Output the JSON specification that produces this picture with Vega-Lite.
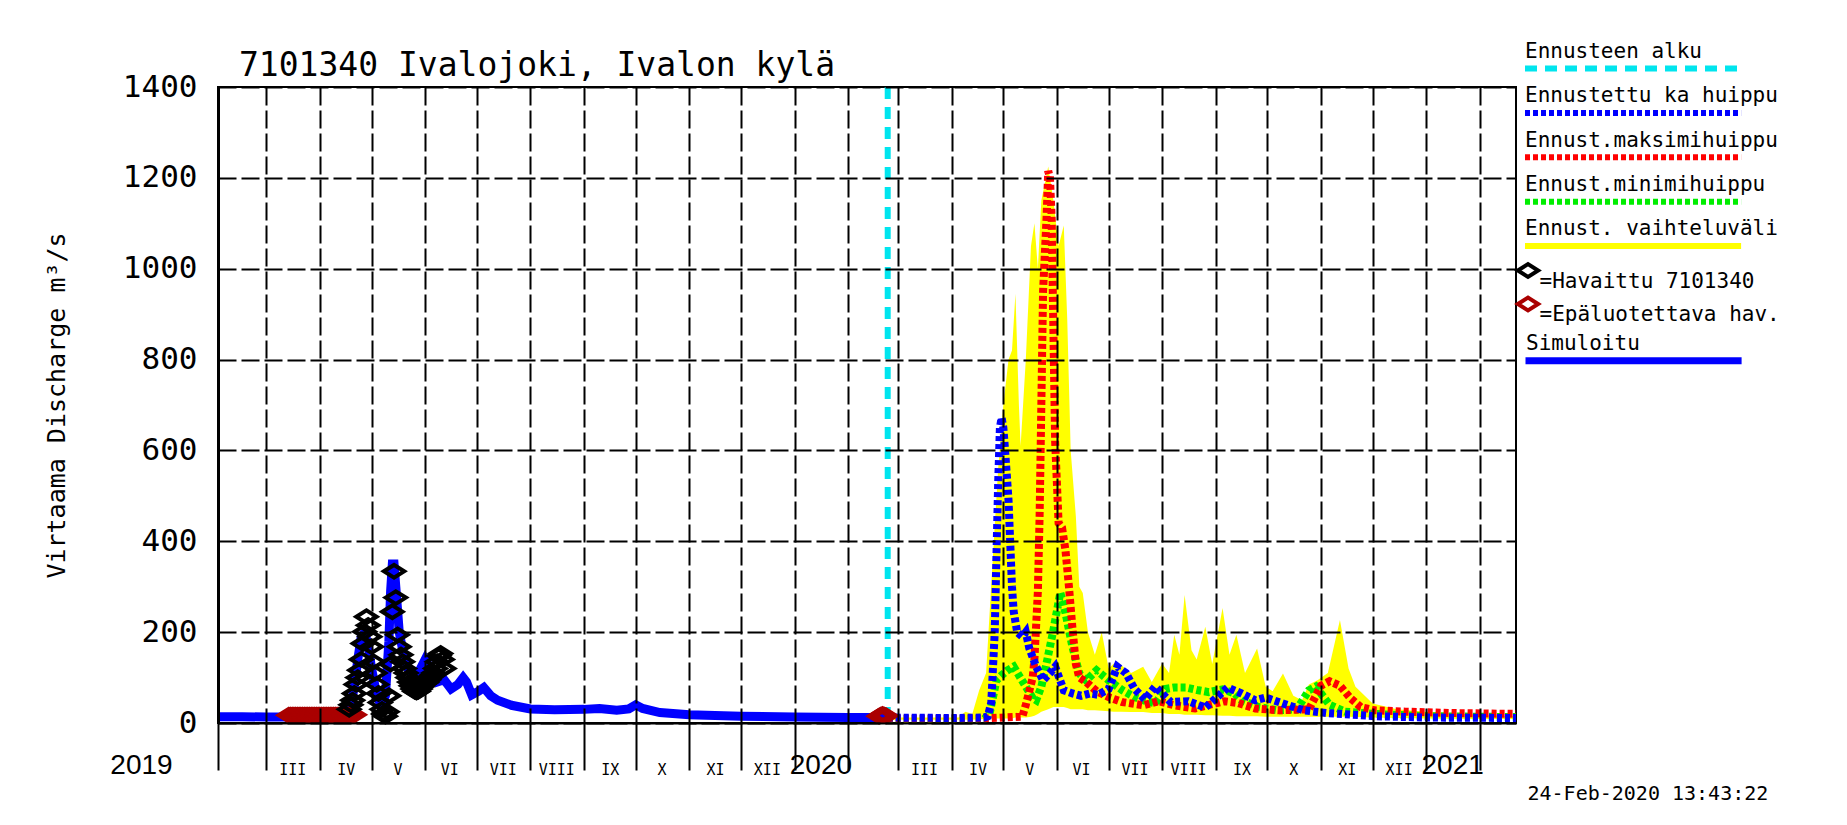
{
  "$schema": "https://vega.github.io/schema/vega-lite/v6.json",
  "autosize": {"type": "none"},
  "width": 1298,
  "height": 636,
  "padding": {"left": 218, "top": 87, "right": 331, "bottom": 102},
  "background": "#ffffff",
  "title": {"text": "7101340 Ivalojoki, Ivalon kylä", "anchor": "start", "frame": "group", "dx": 21, "dy": 77, "font": "DejaVu Sans Mono", "fontSize": 33, "fontWeight": "normal", "color": "#000000", "baseline": "alphabetic", "offset": 12},
  "datasets": {
    "sim": [
      {"date": "2019-02-01", "value": 14}, {"date": "2019-02-15", "value": 14}, {"date": "2019-03-01", "value": 13},
      {"date": "2019-03-15", "value": 13}, {"date": "2019-04-01", "value": 12}, {"date": "2019-04-14", "value": 13},
      {"date": "2019-04-17", "value": 20}, {"date": "2019-04-19", "value": 40}, {"date": "2019-04-21", "value": 80},
      {"date": "2019-04-23", "value": 140}, {"date": "2019-04-25", "value": 190}, {"date": "2019-04-27", "value": 200},
      {"date": "2019-04-29", "value": 170}, {"date": "2019-05-01", "value": 120}, {"date": "2019-05-03", "value": 80},
      {"date": "2019-05-05", "value": 50}, {"date": "2019-05-07", "value": 40}, {"date": "2019-05-09", "value": 60},
      {"date": "2019-05-11", "value": 180}, {"date": "2019-05-12", "value": 290}, {"date": "2019-05-13", "value": 350},
      {"date": "2019-05-14", "value": 350}, {"date": "2019-05-15", "value": 300}, {"date": "2019-05-17", "value": 200},
      {"date": "2019-05-19", "value": 160}, {"date": "2019-05-22", "value": 120}, {"date": "2019-05-25", "value": 100},
      {"date": "2019-05-28", "value": 110}, {"date": "2019-06-01", "value": 140}, {"date": "2019-06-04", "value": 120},
      {"date": "2019-06-08", "value": 90}, {"date": "2019-06-12", "value": 95}, {"date": "2019-06-16", "value": 75},
      {"date": "2019-06-20", "value": 85}, {"date": "2019-06-23", "value": 100}, {"date": "2019-06-25", "value": 90},
      {"date": "2019-06-28", "value": 62}, {"date": "2019-07-02", "value": 70}, {"date": "2019-07-05", "value": 78},
      {"date": "2019-07-09", "value": 60}, {"date": "2019-07-13", "value": 50}, {"date": "2019-07-21", "value": 39},
      {"date": "2019-08-01", "value": 31}, {"date": "2019-08-15", "value": 29}, {"date": "2019-09-01", "value": 30},
      {"date": "2019-09-10", "value": 32}, {"date": "2019-09-20", "value": 28}, {"date": "2019-09-27", "value": 31},
      {"date": "2019-10-01", "value": 40}, {"date": "2019-10-05", "value": 32}, {"date": "2019-10-15", "value": 23},
      {"date": "2019-11-01", "value": 18}, {"date": "2019-12-01", "value": 15}, {"date": "2020-01-01", "value": 13},
      {"date": "2020-02-01", "value": 12}, {"date": "2020-02-24", "value": 12}
    ],
    "obs": [
      {"date": "2019-03-14", "value": 17, "status": "=Epäluotettava hav."}, {"date": "2019-03-15", "value": 17, "status": "=Epäluotettava hav."},
      {"date": "2019-03-16", "value": 17, "status": "=Epäluotettava hav."}, {"date": "2019-03-17", "value": 17, "status": "=Epäluotettava hav."},
      {"date": "2019-03-18", "value": 17, "status": "=Epäluotettava hav."}, {"date": "2019-03-19", "value": 17, "status": "=Epäluotettava hav."},
      {"date": "2019-03-20", "value": 17, "status": "=Epäluotettava hav."}, {"date": "2019-03-21", "value": 17, "status": "=Epäluotettava hav."},
      {"date": "2019-03-22", "value": 17, "status": "=Epäluotettava hav."}, {"date": "2019-03-23", "value": 17, "status": "=Epäluotettava hav."},
      {"date": "2019-03-24", "value": 17, "status": "=Epäluotettava hav."}, {"date": "2019-03-25", "value": 17, "status": "=Epäluotettava hav."},
      {"date": "2019-03-26", "value": 17, "status": "=Epäluotettava hav."}, {"date": "2019-03-27", "value": 17, "status": "=Epäluotettava hav."},
      {"date": "2019-03-28", "value": 17, "status": "=Epäluotettava hav."}, {"date": "2019-03-29", "value": 17, "status": "=Epäluotettava hav."},
      {"date": "2019-03-30", "value": 17, "status": "=Epäluotettava hav."}, {"date": "2019-03-31", "value": 17, "status": "=Epäluotettava hav."},
      {"date": "2019-04-01", "value": 17, "status": "=Epäluotettava hav."}, {"date": "2019-04-02", "value": 17, "status": "=Epäluotettava hav."},
      {"date": "2019-04-03", "value": 17, "status": "=Epäluotettava hav."}, {"date": "2019-04-04", "value": 17, "status": "=Epäluotettava hav."},
      {"date": "2019-04-05", "value": 17, "status": "=Epäluotettava hav."}, {"date": "2019-04-06", "value": 17, "status": "=Epäluotettava hav."},
      {"date": "2019-04-07", "value": 17, "status": "=Epäluotettava hav."}, {"date": "2019-04-08", "value": 17, "status": "=Epäluotettava hav."},
      {"date": "2019-04-09", "value": 17, "status": "=Epäluotettava hav."}, {"date": "2019-04-10", "value": 17, "status": "=Epäluotettava hav."},
      {"date": "2019-04-11", "value": 17, "status": "=Epäluotettava hav."}, {"date": "2019-04-12", "value": 17, "status": "=Epäluotettava hav."},
      {"date": "2019-04-13", "value": 17, "status": "=Epäluotettava hav."}, {"date": "2019-04-14", "value": 17, "status": "=Epäluotettava hav."},
      {"date": "2019-04-15", "value": 17, "status": "=Epäluotettava hav."}, {"date": "2019-04-16", "value": 17, "status": "=Epäluotettava hav."},
      {"date": "2019-04-17", "value": 17, "status": "=Epäluotettava hav."}, {"date": "2019-04-18", "value": 18, "status": "=Epäluotettava hav."},
      {"date": "2019-04-19", "value": 18, "status": "=Epäluotettava hav."}, {"date": "2019-04-20", "value": 18, "status": "=Epäluotettava hav."},
      {"date": "2019-04-21", "value": 18, "status": "=Epäluotettava hav."},
      {"date": "2020-02-19", "value": 15, "status": "=Epäluotettava hav."}, {"date": "2020-02-20", "value": 17, "status": "=Epäluotettava hav."},
      {"date": "2020-02-21", "value": 19, "status": "=Epäluotettava hav."}, {"date": "2020-02-22", "value": 17, "status": "=Epäluotettava hav."},
      {"date": "2020-02-23", "value": 16, "status": "=Epäluotettava hav."},
      {"date": "2019-04-18", "value": 30, "status": "=Havaittu 7101340"}, {"date": "2019-04-19", "value": 40, "status": "=Havaittu 7101340"},
      {"date": "2019-04-20", "value": 50, "status": "=Havaittu 7101340"}, {"date": "2019-04-21", "value": 65, "status": "=Havaittu 7101340"},
      {"date": "2019-04-22", "value": 85, "status": "=Havaittu 7101340"}, {"date": "2019-04-23", "value": 100, "status": "=Havaittu 7101340"},
      {"date": "2019-04-24", "value": 116, "status": "=Havaittu 7101340"}, {"date": "2019-04-25", "value": 140, "status": "=Havaittu 7101340"},
      {"date": "2019-04-26", "value": 175, "status": "=Havaittu 7101340"}, {"date": "2019-04-27", "value": 201, "status": "=Havaittu 7101340"},
      {"date": "2019-04-28", "value": 234, "status": "=Havaittu 7101340"}, {"date": "2019-04-29", "value": 215, "status": "=Havaittu 7101340"},
      {"date": "2019-04-30", "value": 190, "status": "=Havaittu 7101340"}, {"date": "2019-05-01", "value": 168, "status": "=Havaittu 7101340"},
      {"date": "2019-05-02", "value": 135, "status": "=Havaittu 7101340"}, {"date": "2019-05-03", "value": 110, "status": "=Havaittu 7101340"},
      {"date": "2019-05-04", "value": 85, "status": "=Havaittu 7101340"}, {"date": "2019-05-05", "value": 65, "status": "=Havaittu 7101340"},
      {"date": "2019-05-06", "value": 45, "status": "=Havaittu 7101340"}, {"date": "2019-05-07", "value": 30, "status": "=Havaittu 7101340"},
      {"date": "2019-05-08", "value": 20, "status": "=Havaittu 7101340"}, {"date": "2019-05-09", "value": 15, "status": "=Havaittu 7101340"},
      {"date": "2019-05-10", "value": 25, "status": "=Havaittu 7101340"}, {"date": "2019-05-11", "value": 60, "status": "=Havaittu 7101340"},
      {"date": "2019-05-12", "value": 130, "status": "=Havaittu 7101340"}, {"date": "2019-05-13", "value": 245, "status": "=Havaittu 7101340"},
      {"date": "2019-05-14", "value": 334, "status": "=Havaittu 7101340"}, {"date": "2019-05-15", "value": 276, "status": "=Havaittu 7101340"},
      {"date": "2019-05-16", "value": 194, "status": "=Havaittu 7101340"}, {"date": "2019-05-17", "value": 168, "status": "=Havaittu 7101340"},
      {"date": "2019-05-18", "value": 150, "status": "=Havaittu 7101340"}, {"date": "2019-05-19", "value": 135, "status": "=Havaittu 7101340"},
      {"date": "2019-05-20", "value": 120, "status": "=Havaittu 7101340"}, {"date": "2019-05-21", "value": 110, "status": "=Havaittu 7101340"},
      {"date": "2019-05-22", "value": 100, "status": "=Havaittu 7101340"}, {"date": "2019-05-23", "value": 90, "status": "=Havaittu 7101340"},
      {"date": "2019-05-24", "value": 82, "status": "=Havaittu 7101340"}, {"date": "2019-05-25", "value": 75, "status": "=Havaittu 7101340"},
      {"date": "2019-05-26", "value": 70, "status": "=Havaittu 7101340"}, {"date": "2019-05-27", "value": 68, "status": "=Havaittu 7101340"},
      {"date": "2019-05-28", "value": 70, "status": "=Havaittu 7101340"}, {"date": "2019-05-29", "value": 75, "status": "=Havaittu 7101340"},
      {"date": "2019-05-30", "value": 80, "status": "=Havaittu 7101340"}, {"date": "2019-05-31", "value": 85, "status": "=Havaittu 7101340"},
      {"date": "2019-06-01", "value": 88, "status": "=Havaittu 7101340"}, {"date": "2019-06-02", "value": 90, "status": "=Havaittu 7101340"},
      {"date": "2019-06-03", "value": 95, "status": "=Havaittu 7101340"}, {"date": "2019-06-04", "value": 100, "status": "=Havaittu 7101340"},
      {"date": "2019-06-05", "value": 105, "status": "=Havaittu 7101340"}, {"date": "2019-06-06", "value": 110, "status": "=Havaittu 7101340"},
      {"date": "2019-06-07", "value": 120, "status": "=Havaittu 7101340"}, {"date": "2019-06-08", "value": 135, "status": "=Havaittu 7101340"},
      {"date": "2019-06-09", "value": 148, "status": "=Havaittu 7101340"}, {"date": "2019-06-10", "value": 153, "status": "=Havaittu 7101340"},
      {"date": "2019-06-11", "value": 140, "status": "=Havaittu 7101340"}, {"date": "2019-06-12", "value": 120, "status": "=Havaittu 7101340"}
    ],
    "fc": [
      {"date": "2020-02-24", "value": 9, "series": "Ennust.minimihuippu"}, {"date": "2020-04-20", "value": 9, "series": "Ennust.minimihuippu"},
      {"date": "2020-04-23", "value": 20, "series": "Ennust.minimihuippu"}, {"date": "2020-04-25", "value": 57, "series": "Ennust.minimihuippu"},
      {"date": "2020-04-27", "value": 94, "series": "Ennust.minimihuippu"}, {"date": "2020-04-30", "value": 105, "series": "Ennust.minimihuippu"},
      {"date": "2020-05-03", "value": 115, "series": "Ennust.minimihuippu"}, {"date": "2020-05-07", "value": 124, "series": "Ennust.minimihuippu"},
      {"date": "2020-05-10", "value": 105, "series": "Ennust.minimihuippu"}, {"date": "2020-05-14", "value": 80, "series": "Ennust.minimihuippu"},
      {"date": "2020-05-18", "value": 55, "series": "Ennust.minimihuippu"}, {"date": "2020-05-20", "value": 50, "series": "Ennust.minimihuippu"},
      {"date": "2020-05-23", "value": 80, "series": "Ennust.minimihuippu"}, {"date": "2020-05-26", "value": 131, "series": "Ennust.minimihuippu"},
      {"date": "2020-05-30", "value": 205, "series": "Ennust.minimihuippu"}, {"date": "2020-06-03", "value": 287, "series": "Ennust.minimihuippu"},
      {"date": "2020-06-06", "value": 242, "series": "Ennust.minimihuippu"}, {"date": "2020-06-10", "value": 168, "series": "Ennust.minimihuippu"},
      {"date": "2020-06-14", "value": 109, "series": "Ennust.minimihuippu"}, {"date": "2020-06-18", "value": 94, "series": "Ennust.minimihuippu"},
      {"date": "2020-06-24", "value": 116, "series": "Ennust.minimihuippu"}, {"date": "2020-07-01", "value": 94, "series": "Ennust.minimihuippu"},
      {"date": "2020-07-09", "value": 72, "series": "Ennust.minimihuippu"}, {"date": "2020-07-16", "value": 57, "series": "Ennust.minimihuippu"},
      {"date": "2020-07-21", "value": 50, "series": "Ennust.minimihuippu"}, {"date": "2020-07-28", "value": 43, "series": "Ennust.minimihuippu"},
      {"date": "2020-08-03", "value": 75, "series": "Ennust.minimihuippu"}, {"date": "2020-08-08", "value": 78, "series": "Ennust.minimihuippu"},
      {"date": "2020-08-15", "value": 78, "series": "Ennust.minimihuippu"}, {"date": "2020-08-22", "value": 72, "series": "Ennust.minimihuippu"},
      {"date": "2020-08-28", "value": 68, "series": "Ennust.minimihuippu"}, {"date": "2020-09-05", "value": 74, "series": "Ennust.minimihuippu"},
      {"date": "2020-09-12", "value": 65, "series": "Ennust.minimihuippu"}, {"date": "2020-09-16", "value": 50, "series": "Ennust.minimihuippu"},
      {"date": "2020-09-26", "value": 35, "series": "Ennust.minimihuippu"}, {"date": "2020-10-07", "value": 28, "series": "Ennust.minimihuippu"},
      {"date": "2020-10-18", "value": 30, "series": "Ennust.minimihuippu"}, {"date": "2020-10-25", "value": 72, "series": "Ennust.minimihuippu"},
      {"date": "2020-10-29", "value": 80, "series": "Ennust.minimihuippu"}, {"date": "2020-11-06", "value": 40, "series": "Ennust.minimihuippu"},
      {"date": "2020-11-15", "value": 25, "series": "Ennust.minimihuippu"}, {"date": "2020-12-01", "value": 20, "series": "Ennust.minimihuippu"},
      {"date": "2021-01-01", "value": 15, "series": "Ennust.minimihuippu"}, {"date": "2021-02-22", "value": 13, "series": "Ennust.minimihuippu"},

      {"date": "2020-02-24", "value": 10, "series": "Ennust.maksimihuippu"}, {"date": "2020-04-20", "value": 10, "series": "Ennust.maksimihuippu"},
      {"date": "2020-05-12", "value": 14, "series": "Ennust.maksimihuippu"}, {"date": "2020-05-14", "value": 40, "series": "Ennust.maksimihuippu"},
      {"date": "2020-05-16", "value": 70, "series": "Ennust.maksimihuippu"}, {"date": "2020-05-18", "value": 100, "series": "Ennust.maksimihuippu"},
      {"date": "2020-05-19", "value": 140, "series": "Ennust.maksimihuippu"}, {"date": "2020-05-21", "value": 290, "series": "Ennust.maksimihuippu"},
      {"date": "2020-05-22", "value": 455, "series": "Ennust.maksimihuippu"}, {"date": "2020-05-23", "value": 700, "series": "Ennust.maksimihuippu"},
      {"date": "2020-05-24", "value": 950, "series": "Ennust.maksimihuippu"}, {"date": "2020-05-26", "value": 1110, "series": "Ennust.maksimihuippu"},
      {"date": "2020-05-27", "value": 1215, "series": "Ennust.maksimihuippu"}, {"date": "2020-05-28", "value": 1200, "series": "Ennust.maksimihuippu"},
      {"date": "2020-05-29", "value": 1110, "series": "Ennust.maksimihuippu"}, {"date": "2020-05-30", "value": 860, "series": "Ennust.maksimihuippu"},
      {"date": "2020-05-31", "value": 620, "series": "Ennust.maksimihuippu"}, {"date": "2020-06-02", "value": 440, "series": "Ennust.maksimihuippu"},
      {"date": "2020-06-04", "value": 430, "series": "Ennust.maksimihuippu"}, {"date": "2020-06-06", "value": 380, "series": "Ennust.maksimihuippu"},
      {"date": "2020-06-08", "value": 300, "series": "Ennust.maksimihuippu"}, {"date": "2020-06-10", "value": 210, "series": "Ennust.maksimihuippu"},
      {"date": "2020-06-12", "value": 130, "series": "Ennust.maksimihuippu"}, {"date": "2020-06-14", "value": 100, "series": "Ennust.maksimihuippu"},
      {"date": "2020-06-18", "value": 90, "series": "Ennust.maksimihuippu"}, {"date": "2020-06-24", "value": 70, "series": "Ennust.maksimihuippu"},
      {"date": "2020-07-01", "value": 57, "series": "Ennust.maksimihuippu"}, {"date": "2020-07-09", "value": 46, "series": "Ennust.maksimihuippu"},
      {"date": "2020-07-21", "value": 39, "series": "Ennust.maksimihuippu"}, {"date": "2020-07-30", "value": 48, "series": "Ennust.maksimihuippu"},
      {"date": "2020-08-08", "value": 39, "series": "Ennust.maksimihuippu"}, {"date": "2020-08-20", "value": 32, "series": "Ennust.maksimihuippu"},
      {"date": "2020-09-06", "value": 48, "series": "Ennust.maksimihuippu"}, {"date": "2020-09-14", "value": 44, "series": "Ennust.maksimihuippu"},
      {"date": "2020-09-24", "value": 32, "series": "Ennust.maksimihuippu"}, {"date": "2020-10-07", "value": 28, "series": "Ennust.maksimihuippu"},
      {"date": "2020-10-25", "value": 30, "series": "Ennust.maksimihuippu"}, {"date": "2020-11-01", "value": 82, "series": "Ennust.maksimihuippu"},
      {"date": "2020-11-06", "value": 92, "series": "Ennust.maksimihuippu"}, {"date": "2020-11-12", "value": 82, "series": "Ennust.maksimihuippu"},
      {"date": "2020-11-18", "value": 55, "series": "Ennust.maksimihuippu"}, {"date": "2020-11-24", "value": 35, "series": "Ennust.maksimihuippu"},
      {"date": "2020-12-02", "value": 28, "series": "Ennust.maksimihuippu"}, {"date": "2020-12-20", "value": 25, "series": "Ennust.maksimihuippu"},
      {"date": "2021-01-15", "value": 22, "series": "Ennust.maksimihuippu"}, {"date": "2021-02-22", "value": 20, "series": "Ennust.maksimihuippu"},

      {"date": "2020-02-24", "value": 12, "series": "Ennustettu ka huippu"}, {"date": "2020-04-01", "value": 11, "series": "Ennustettu ka huippu"},
      {"date": "2020-04-20", "value": 12, "series": "Ennustettu ka huippu"}, {"date": "2020-04-22", "value": 15, "series": "Ennustettu ka huippu"},
      {"date": "2020-04-24", "value": 45, "series": "Ennustettu ka huippu"}, {"date": "2020-04-26", "value": 200, "series": "Ennustettu ka huippu"},
      {"date": "2020-04-27", "value": 370, "series": "Ennustettu ka huippu"}, {"date": "2020-04-28", "value": 530, "series": "Ennustettu ka huippu"},
      {"date": "2020-04-29", "value": 650, "series": "Ennustettu ka huippu"}, {"date": "2020-04-30", "value": 672, "series": "Ennustettu ka huippu"},
      {"date": "2020-05-01", "value": 650, "series": "Ennustettu ka huippu"}, {"date": "2020-05-02", "value": 600, "series": "Ennustettu ka huippu"},
      {"date": "2020-05-04", "value": 490, "series": "Ennustettu ka huippu"}, {"date": "2020-05-06", "value": 300, "series": "Ennustettu ka huippu"},
      {"date": "2020-05-07", "value": 245, "series": "Ennustettu ka huippu"}, {"date": "2020-05-09", "value": 200, "series": "Ennustettu ka huippu"},
      {"date": "2020-05-12", "value": 190, "series": "Ennustettu ka huippu"}, {"date": "2020-05-14", "value": 200, "series": "Ennustettu ka huippu"},
      {"date": "2020-05-16", "value": 165, "series": "Ennustettu ka huippu"}, {"date": "2020-05-20", "value": 124, "series": "Ennustettu ka huippu"},
      {"date": "2020-05-24", "value": 94, "series": "Ennustettu ka huippu"}, {"date": "2020-05-28", "value": 110, "series": "Ennustettu ka huippu"},
      {"date": "2020-05-31", "value": 124, "series": "Ennustettu ka huippu"}, {"date": "2020-06-05", "value": 72, "series": "Ennustettu ka huippu"},
      {"date": "2020-06-10", "value": 65, "series": "Ennustettu ka huippu"}, {"date": "2020-06-15", "value": 60, "series": "Ennustettu ka huippu"},
      {"date": "2020-06-20", "value": 65, "series": "Ennustettu ka huippu"}, {"date": "2020-06-25", "value": 62, "series": "Ennustettu ka huippu"},
      {"date": "2020-07-01", "value": 75, "series": "Ennustettu ka huippu"}, {"date": "2020-07-06", "value": 124, "series": "Ennustettu ka huippu"},
      {"date": "2020-07-11", "value": 110, "series": "Ennustettu ka huippu"}, {"date": "2020-07-16", "value": 75, "series": "Ennustettu ka huippu"},
      {"date": "2020-07-22", "value": 52, "series": "Ennustettu ka huippu"}, {"date": "2020-07-28", "value": 80, "series": "Ennustettu ka huippu"},
      {"date": "2020-08-06", "value": 46, "series": "Ennustettu ka huippu"}, {"date": "2020-08-16", "value": 48, "series": "Ennustettu ka huippu"},
      {"date": "2020-08-26", "value": 34, "series": "Ennustettu ka huippu"}, {"date": "2020-09-08", "value": 78, "series": "Ennustettu ka huippu"},
      {"date": "2020-09-16", "value": 65, "series": "Ennustettu ka huippu"}, {"date": "2020-09-24", "value": 50, "series": "Ennustettu ka huippu"},
      {"date": "2020-09-30", "value": 56, "series": "Ennustettu ka huippu"}, {"date": "2020-10-10", "value": 43, "series": "Ennustettu ka huippu"},
      {"date": "2020-10-22", "value": 28, "series": "Ennustettu ka huippu"}, {"date": "2020-11-04", "value": 22, "series": "Ennustettu ka huippu"},
      {"date": "2020-12-02", "value": 15, "series": "Ennustettu ka huippu"}, {"date": "2021-01-01", "value": 12, "series": "Ennustettu ka huippu"},
      {"date": "2021-02-22", "value": 11, "series": "Ennustettu ka huippu"}
    ],
    "band": [
      {"date": "2020-02-24", "low": 7, "high": 12}, {"date": "2020-04-05", "low": 7, "high": 12}, {"date": "2020-04-09", "low": 7, "high": 25},
      {"date": "2020-04-13", "low": 7, "high": 20}, {"date": "2020-04-17", "low": 8, "high": 72}, {"date": "2020-04-21", "low": 9, "high": 110},
      {"date": "2020-04-25", "low": 10, "high": 370}, {"date": "2020-04-28", "low": 10, "high": 560}, {"date": "2020-05-01", "low": 10, "high": 700},
      {"date": "2020-05-04", "low": 10, "high": 800}, {"date": "2020-05-06", "low": 10, "high": 820}, {"date": "2020-05-08", "low": 12, "high": 945},
      {"date": "2020-05-10", "low": 12, "high": 700}, {"date": "2020-05-11", "low": 12, "high": 610}, {"date": "2020-05-14", "low": 12, "high": 800},
      {"date": "2020-05-17", "low": 14, "high": 1050}, {"date": "2020-05-19", "low": 16, "high": 1100}, {"date": "2020-05-21", "low": 20, "high": 1000},
      {"date": "2020-05-23", "low": 25, "high": 1150}, {"date": "2020-05-27", "low": 30, "high": 1225}, {"date": "2020-05-30", "low": 35, "high": 1150},
      {"date": "2020-06-02", "low": 35, "high": 1050}, {"date": "2020-06-05", "low": 35, "high": 1095}, {"date": "2020-06-07", "low": 33, "high": 890},
      {"date": "2020-06-09", "low": 30, "high": 600}, {"date": "2020-06-12", "low": 30, "high": 455}, {"date": "2020-06-14", "low": 30, "high": 300},
      {"date": "2020-06-16", "low": 30, "high": 286}, {"date": "2020-06-19", "low": 28, "high": 200}, {"date": "2020-06-23", "low": 28, "high": 150},
      {"date": "2020-06-27", "low": 27, "high": 200}, {"date": "2020-07-01", "low": 26, "high": 120}, {"date": "2020-07-04", "low": 25, "high": 131},
      {"date": "2020-07-08", "low": 25, "high": 128}, {"date": "2020-07-14", "low": 24, "high": 110}, {"date": "2020-07-21", "low": 24, "high": 124},
      {"date": "2020-07-26", "low": 22, "high": 90}, {"date": "2020-08-01", "low": 22, "high": 131}, {"date": "2020-08-05", "low": 20, "high": 110},
      {"date": "2020-08-08", "low": 20, "high": 194}, {"date": "2020-08-11", "low": 20, "high": 150}, {"date": "2020-08-14", "low": 18, "high": 282},
      {"date": "2020-08-18", "low": 18, "high": 160}, {"date": "2020-08-21", "low": 18, "high": 140}, {"date": "2020-08-26", "low": 17, "high": 212},
      {"date": "2020-08-30", "low": 17, "high": 130}, {"date": "2020-09-05", "low": 16, "high": 253}, {"date": "2020-09-09", "low": 16, "high": 150},
      {"date": "2020-09-13", "low": 15, "high": 194}, {"date": "2020-09-18", "low": 15, "high": 110}, {"date": "2020-09-25", "low": 15, "high": 164},
      {"date": "2020-09-30", "low": 14, "high": 80}, {"date": "2020-10-04", "low": 14, "high": 70}, {"date": "2020-10-10", "low": 14, "high": 109},
      {"date": "2020-10-16", "low": 14, "high": 60}, {"date": "2020-10-21", "low": 14, "high": 50}, {"date": "2020-10-25", "low": 14, "high": 85},
      {"date": "2020-10-30", "low": 14, "high": 94}, {"date": "2020-11-05", "low": 14, "high": 110}, {"date": "2020-11-12", "low": 14, "high": 227},
      {"date": "2020-11-17", "low": 14, "high": 120}, {"date": "2020-11-21", "low": 13, "high": 80}, {"date": "2020-12-01", "low": 12, "high": 43},
      {"date": "2020-12-15", "low": 11, "high": 30}, {"date": "2021-01-01", "low": 10, "high": 25}, {"date": "2021-02-01", "low": 9, "high": 18},
      {"date": "2021-02-22", "low": 9, "high": 15}
    ],
    "start": [{"date": "2020-02-24"}]
  },
  "layer": [
    {
      "layer": [
        {
          "data": {"name": "band"},
          "mark": {"type": "area", "color": "#ffff00", "interpolate": "linear"},
          "encoding": {
            "x": {
              "field": "date", "type": "temporal",
              "scale": {"type": "utc", "domain": [{"year": 2019, "month": 2, "date": 1, "utc": true}, {"year": 2021, "month": 2, "date": 22, "utc": true}]},
              "axis": {
                "orient": "bottom",
                "values": [
                  {"year": 2019, "month": 2, "date": 1, "utc": true}, {"year": 2019, "month": 3, "date": 1, "utc": true},
                  {"year": 2019, "month": 4, "date": 1, "utc": true}, {"year": 2019, "month": 5, "date": 1, "utc": true},
                  {"year": 2019, "month": 6, "date": 1, "utc": true}, {"year": 2019, "month": 7, "date": 1, "utc": true},
                  {"year": 2019, "month": 8, "date": 1, "utc": true}, {"year": 2019, "month": 9, "date": 1, "utc": true},
                  {"year": 2019, "month": 10, "date": 1, "utc": true}, {"year": 2019, "month": 11, "date": 1, "utc": true},
                  {"year": 2019, "month": 12, "date": 1, "utc": true}, {"year": 2020, "month": 1, "date": 1, "utc": true},
                  {"year": 2020, "month": 2, "date": 1, "utc": true}, {"year": 2020, "month": 3, "date": 1, "utc": true},
                  {"year": 2020, "month": 4, "date": 1, "utc": true}, {"year": 2020, "month": 5, "date": 1, "utc": true},
                  {"year": 2020, "month": 6, "date": 1, "utc": true}, {"year": 2020, "month": 7, "date": 1, "utc": true},
                  {"year": 2020, "month": 8, "date": 1, "utc": true}, {"year": 2020, "month": 9, "date": 1, "utc": true},
                  {"year": 2020, "month": 10, "date": 1, "utc": true}, {"year": 2020, "month": 11, "date": 1, "utc": true},
                  {"year": 2020, "month": 12, "date": 1, "utc": true}, {"year": 2021, "month": 1, "date": 1, "utc": true},
                  {"year": 2021, "month": 2, "date": 1, "utc": true}
                ],
                "labels": false, "ticks": true, "tickSize": 47, "tickWidth": 2, "tickColor": "#000000",
                "domain": true, "domainColor": "#000000", "domainWidth": 2,
                "grid": true, "gridColor": "#000000", "gridWidth": 2, "gridDash": [18, 5],
                "title": "2019", "titleFont": "Liberation Sans", "titleFontSize": 28, "titleFontWeight": "normal", "titleColor": "#000000",
                "titleX": -77, "titleY": 42, "titleAlign": "center", "titleBaseline": "middle", "titleAngle": 0,
                "zindex": 1
              }
            },
            "y": {
              "field": "low", "type": "quantitative", "scale": {"domain": [0, 1400], "nice": false},
              "axis": {
                "values": [0, 200, 400, 600, 800, 1000, 1200, 1400], "format": "d",
                "ticks": false, "labelPadding": 21, "labelFont": "DejaVu Sans Mono", "labelFontSize": 31, "labelColor": "#000000", "labelFlush": false,
                "domain": true, "domainColor": "#000000", "domainWidth": 3,
                "grid": true, "gridColor": "#000000", "gridWidth": 2, "gridDash": [18, 5],
                "title": "Virtaama Discharge m³/s", "titleFont": "DejaVu Sans Mono", "titleFontSize": 25, "titleFontWeight": "normal", "titleColor": "#000000", "titlePadding": 53,
                "zindex": 1
              }
            },
            "y2": {"field": "high"}
          }
        },
        {
          "data": {"name": "fc"},
          "mark": {"type": "line", "strokeWidth": 8},
          "encoding": {
            "x": {
              "field": "date", "type": "temporal",
              "axis": {
                "orient": "bottom",
                "values": [
                  {"year": 2019, "month": 2, "date": 1, "utc": true}, {"year": 2019, "month": 3, "date": 1, "utc": true},
                  {"year": 2019, "month": 4, "date": 1, "utc": true}, {"year": 2019, "month": 5, "date": 1, "utc": true},
                  {"year": 2019, "month": 6, "date": 1, "utc": true}, {"year": 2019, "month": 7, "date": 1, "utc": true},
                  {"year": 2019, "month": 8, "date": 1, "utc": true}, {"year": 2019, "month": 9, "date": 1, "utc": true},
                  {"year": 2019, "month": 10, "date": 1, "utc": true}, {"year": 2019, "month": 11, "date": 1, "utc": true},
                  {"year": 2019, "month": 12, "date": 1, "utc": true}, {"year": 2020, "month": 1, "date": 1, "utc": true},
                  {"year": 2020, "month": 2, "date": 1, "utc": true}, {"year": 2020, "month": 3, "date": 1, "utc": true},
                  {"year": 2020, "month": 4, "date": 1, "utc": true}, {"year": 2020, "month": 5, "date": 1, "utc": true},
                  {"year": 2020, "month": 6, "date": 1, "utc": true}, {"year": 2020, "month": 7, "date": 1, "utc": true},
                  {"year": 2020, "month": 8, "date": 1, "utc": true}, {"year": 2020, "month": 9, "date": 1, "utc": true},
                  {"year": 2020, "month": 10, "date": 1, "utc": true}, {"year": 2020, "month": 11, "date": 1, "utc": true},
                  {"year": 2020, "month": 12, "date": 1, "utc": true}, {"year": 2021, "month": 1, "date": 1, "utc": true},
                  {"year": 2021, "month": 2, "date": 1, "utc": true}
                ],
                "labels": false, "ticks": true, "tickSize": 47, "tickWidth": 2, "tickColor": "#000000",
                "domain": true, "domainColor": "#000000", "domainWidth": 2,
                "grid": true, "gridColor": "#000000", "gridWidth": 2, "gridDash": [18, 5],
                "title": "2019", "titleFont": "Liberation Sans", "titleFontSize": 28, "titleFontWeight": "normal", "titleColor": "#000000",
                "titleX": -77, "titleY": 42, "titleAlign": "center", "titleBaseline": "middle", "titleAngle": 0,
                "zindex": 1
              }
            },
            "y": {
              "field": "value", "type": "quantitative",
              "axis": {
                "values": [0, 200, 400, 600, 800, 1000, 1200, 1400], "format": "d",
                "ticks": false, "labelPadding": 21, "labelFont": "DejaVu Sans Mono", "labelFontSize": 31, "labelColor": "#000000", "labelFlush": false,
                "domain": true, "domainColor": "#000000", "domainWidth": 3,
                "grid": true, "gridColor": "#000000", "gridWidth": 2, "gridDash": [18, 5],
                "title": "Virtaama Discharge m³/s", "titleFont": "DejaVu Sans Mono", "titleFontSize": 25, "titleFontWeight": "normal", "titleColor": "#000000", "titlePadding": 53,
                "zindex": 1
              }
            },
            "color": {
              "field": "series", "type": "nominal",
              "scale": {"domain": ["Ennusteen alku", "Ennustettu ka huippu", "Ennust.maksimihuippu", "Ennust.minimihuippu", "Ennust. vaihteluväli"], "range": ["#00e5ee", "#0000ff", "#ff0000", "#00ee00", "#ffff00"]},
              "legend": {"title": null, "orient": "none", "legendX": 1293, "legendY": -43.3, "direction": "vertical", "symbolType": "M0,1H20", "symbolSize": 467, "symbolStrokeWidth": 6, "labelOffset": -14, "labelBaseline": "alphabetic", "labelFont": "DejaVu Sans Mono", "labelFontSize": 21, "labelColor": "#000000", "labelLimit": 400, "rowPadding": 4.4, "padding": 0}
            },
            "strokeDash": {
              "field": "series", "type": "nominal",
              "scale": {"domain": ["Ennusteen alku", "Ennustettu ka huippu", "Ennust.maksimihuippu", "Ennust.minimihuippu", "Ennust. vaihteluväli"], "range": [[12, 8], [5, 3], [5, 3], [5, 3], [1, 0]]},
              "legend": {"title": null, "orient": "none", "legendX": 1293, "legendY": -43.3, "direction": "vertical", "symbolType": "M0,1H20", "symbolSize": 467, "symbolStrokeWidth": 6, "labelOffset": -14, "labelBaseline": "alphabetic", "labelFont": "DejaVu Sans Mono", "labelFontSize": 21, "labelColor": "#000000", "labelLimit": 400, "rowPadding": 4.4, "padding": 0}
            }
          }
        },
        {
          "data": {"name": "start"},
          "mark": {"type": "rule", "strokeWidth": 6},
          "encoding": {
            "x": {
              "field": "date", "type": "temporal",
              "axis": {
                "orient": "bottom",
                "values": [
                  {"year": 2019, "month": 2, "date": 1, "utc": true}, {"year": 2019, "month": 3, "date": 1, "utc": true},
                  {"year": 2019, "month": 4, "date": 1, "utc": true}, {"year": 2019, "month": 5, "date": 1, "utc": true},
                  {"year": 2019, "month": 6, "date": 1, "utc": true}, {"year": 2019, "month": 7, "date": 1, "utc": true},
                  {"year": 2019, "month": 8, "date": 1, "utc": true}, {"year": 2019, "month": 9, "date": 1, "utc": true},
                  {"year": 2019, "month": 10, "date": 1, "utc": true}, {"year": 2019, "month": 11, "date": 1, "utc": true},
                  {"year": 2019, "month": 12, "date": 1, "utc": true}, {"year": 2020, "month": 1, "date": 1, "utc": true},
                  {"year": 2020, "month": 2, "date": 1, "utc": true}, {"year": 2020, "month": 3, "date": 1, "utc": true},
                  {"year": 2020, "month": 4, "date": 1, "utc": true}, {"year": 2020, "month": 5, "date": 1, "utc": true},
                  {"year": 2020, "month": 6, "date": 1, "utc": true}, {"year": 2020, "month": 7, "date": 1, "utc": true},
                  {"year": 2020, "month": 8, "date": 1, "utc": true}, {"year": 2020, "month": 9, "date": 1, "utc": true},
                  {"year": 2020, "month": 10, "date": 1, "utc": true}, {"year": 2020, "month": 11, "date": 1, "utc": true},
                  {"year": 2020, "month": 12, "date": 1, "utc": true}, {"year": 2021, "month": 1, "date": 1, "utc": true},
                  {"year": 2021, "month": 2, "date": 1, "utc": true}
                ],
                "labels": false, "ticks": true, "tickSize": 47, "tickWidth": 2, "tickColor": "#000000",
                "domain": true, "domainColor": "#000000", "domainWidth": 2,
                "grid": true, "gridColor": "#000000", "gridWidth": 2, "gridDash": [18, 5],
                "title": "2019", "titleFont": "Liberation Sans", "titleFontSize": 28, "titleFontWeight": "normal", "titleColor": "#000000",
                "titleX": -77, "titleY": 42, "titleAlign": "center", "titleBaseline": "middle", "titleAngle": 0,
                "zindex": 1
              }
            },
            "color": {"datum": "Ennusteen alku", "type": "nominal"},
            "strokeDash": {"datum": "Ennusteen alku", "type": "nominal"}
          }
        }
      ]
    },
    {
      "data": {"name": "sim"},
      "mark": {"type": "line", "strokeWidth": 9},
      "encoding": {
        "x": {
          "field": "date", "type": "temporal",
          "axis": {
            "orient": "bottom",
            "values": [
              {"year": 2019, "month": 3, "date": 16, "utc": true}, {"year": 2019, "month": 4, "date": 16, "utc": true},
              {"year": 2019, "month": 5, "date": 16, "utc": true}, {"year": 2019, "month": 6, "date": 15, "utc": true},
              {"year": 2019, "month": 7, "date": 16, "utc": true}, {"year": 2019, "month": 8, "date": 16, "utc": true},
              {"year": 2019, "month": 9, "date": 16, "utc": true}, {"year": 2019, "month": 10, "date": 16, "utc": true},
              {"year": 2019, "month": 11, "date": 16, "utc": true}, {"year": 2019, "month": 12, "date": 16, "utc": true},
              {"year": 2020, "month": 1, "date": 16, "utc": true},
              {"year": 2020, "month": 3, "date": 16, "utc": true}, {"year": 2020, "month": 4, "date": 16, "utc": true},
              {"year": 2020, "month": 5, "date": 16, "utc": true}, {"year": 2020, "month": 6, "date": 15, "utc": true},
              {"year": 2020, "month": 7, "date": 16, "utc": true}, {"year": 2020, "month": 8, "date": 16, "utc": true},
              {"year": 2020, "month": 9, "date": 16, "utc": true}, {"year": 2020, "month": 10, "date": 16, "utc": true},
              {"year": 2020, "month": 11, "date": 16, "utc": true}, {"year": 2020, "month": 12, "date": 16, "utc": true},
              {"year": 2021, "month": 1, "date": 16, "utc": true}
            ],
            "labelExpr": "utcmonth(datum.value) == 0 ? '' + utcyear(datum.value) : ['I','II','III','IV','V','VI','VII','VIII','IX','X','XI','XII'][utcmonth(datum.value)]",
            "ticks": false, "domain": false, "grid": false,
            "labelFont": {"condition": {"test": "utcmonth(datum.value) == 0", "value": "Liberation Sans"}, "value": "DejaVu Sans Mono"},
            "labelFontSize": {"condition": {"test": "utcmonth(datum.value) == 0", "value": 28}, "value": 15},
            "labelPadding": {"condition": {"test": "utcmonth(datum.value) == 0", "value": 42}, "value": 46},
            "labelBaseline": "middle", "labelAlign": "center", "labelOverlap": false, "labelFlush": false, "labelBound": false, "labelColor": "#000000",
            "title": "24-Feb-2020 13:43:22", "titleFont": "DejaVu Sans Mono", "titleFontSize": 20, "titleFontWeight": "normal", "titleColor": "#000000",
            "titleX": 1309, "titleY": 70, "titleAlign": "left", "titleBaseline": "middle", "titleAngle": 0,
            "zindex": 1
          }
        },
        "y": {
          "field": "value", "type": "quantitative",
          "axis": {
            "values": [0, 200, 400, 600, 800, 1000, 1200, 1400], "format": "d",
            "ticks": false, "labelPadding": 21, "labelFont": "DejaVu Sans Mono", "labelFontSize": 31, "labelColor": "#000000", "labelFlush": false,
            "domain": true, "domainColor": "#000000", "domainWidth": 3,
            "grid": true, "gridColor": "#000000", "gridWidth": 2, "gridDash": [18, 5],
            "title": "Virtaama Discharge m³/s", "titleFont": "DejaVu Sans Mono", "titleFontSize": 25, "titleFontWeight": "normal", "titleColor": "#000000", "titlePadding": 53,
            "zindex": 1
          }
        },
        "color": {
          "datum": "Simuloitu", "type": "nominal",
          "scale": {"domain": ["Simuloitu"], "range": ["#0000ff"]},
          "legend": {"title": null, "orient": "none", "legendX": 1293, "legendY": 248.5, "symbolType": "M0,1H20", "symbolSize": 467, "symbolStrokeWidth": 7, "labelOffset": -14, "labelBaseline": "alphabetic", "labelFont": "DejaVu Sans Mono", "labelFontSize": 21, "labelColor": "#000000", "labelLimit": 400, "padding": 0}
        }
      }
    },
    {
      "data": {"name": "obs"},
      "mark": {"type": "point", "filled": false, "size": 160, "strokeWidth": 4, "opacity": 1},
      "encoding": {
        "x": {"field": "date", "type": "temporal", "axis": null},
        "y": {
          "field": "value", "type": "quantitative",
          "axis": {
            "values": [0, 200, 400, 600, 800, 1000, 1200, 1400], "format": "d",
            "ticks": false, "labelPadding": 21, "labelFont": "DejaVu Sans Mono", "labelFontSize": 31, "labelColor": "#000000", "labelFlush": false,
            "domain": true, "domainColor": "#000000", "domainWidth": 3,
            "grid": true, "gridColor": "#000000", "gridWidth": 2, "gridDash": [18, 5],
            "title": "Virtaama Discharge m³/s", "titleFont": "DejaVu Sans Mono", "titleFontSize": 25, "titleFontWeight": "normal", "titleColor": "#000000", "titlePadding": 53,
            "zindex": 1
          }
        },
        "shape": {
          "field": "status", "type": "nominal",
          "scale": {"domain": ["=Havaittu 7101340", "=Epäluotettava hav."], "range": ["M-1.6,0L0,-1L1.6,0L0,1Z", "M-1.6,0L0,-1L1.6,0L0,1Z"]},
          "legend": {"title": null, "orient": "none", "legendX": 1299.5, "legendY": 173, "symbolSize": 160, "symbolStrokeWidth": 4, "labelOffset": 1, "labelBaseline": "top", "labelFont": "DejaVu Sans Mono", "labelFontSize": 21, "labelColor": "#000000", "labelLimit": 400, "rowPadding": -2.5, "padding": 0}
        },
        "stroke": {
          "field": "status", "type": "nominal",
          "scale": {"domain": ["=Havaittu 7101340", "=Epäluotettava hav."], "range": ["#000000", "#aa0000"]},
          "legend": {"title": null, "orient": "none", "legendX": 1299.5, "legendY": 173, "symbolSize": 160, "symbolStrokeWidth": 4, "labelOffset": 1, "labelBaseline": "top", "labelFont": "DejaVu Sans Mono", "labelFontSize": 21, "labelColor": "#000000", "labelLimit": 400, "rowPadding": -2.5, "padding": 0}
        }
      }
    }
  ],
  "resolve": {"scale": {"color": "independent", "strokeDash": "independent"}, "axis": {"x": "independent"}},
  "config": {
    "view": {"stroke": "#000000", "strokeWidth": 2},
    "legend": {"labelFont": "DejaVu Sans Mono", "labelColor": "#000000", "labelLimit": 400, "padding": 0},
    "axis": {"labelColor": "#000000", "titleColor": "#000000"}
  }
}
